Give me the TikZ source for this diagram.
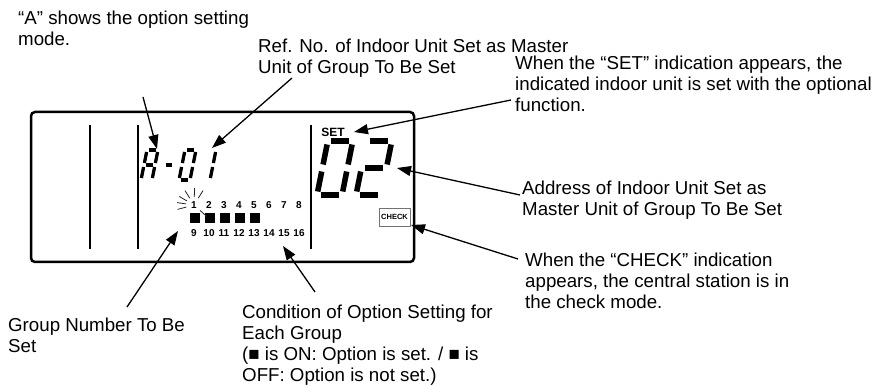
\documentclass[tikz,border=0pt]{standalone}
\usepackage{fontspec}
\setmainfont{Liberation Sans}
\usetikzlibrary{arrows.meta}
% seven-segment helpers
\newcommand{\segA}{\draw (\sgg,\shh) -- (\sww-\sgg,\shh);}
\newcommand{\segB}{\draw (\sww,\shh-\sgg) -- (\sww,\shh/2+\sgg);}
\newcommand{\segC}{\draw (\sww,\shh/2-\sgg) -- (\sww,\sgg);}
\newcommand{\segD}{\draw (\sgg,0) -- (\sww-\sgg,0);}
\newcommand{\segE}{\draw (0,\shh/2-\sgg) -- (0,\sgg);}
\newcommand{\segF}{\draw (0,\shh-\sgg) -- (0,\shh/2+\sgg);}
\newcommand{\segG}{\draw (\sgg,\shh/2) -- (\sww-\sgg,\shh/2);}
% #1 x, #2 y of bottom-left, #3 width, #4 height, #5 thickness, #6 gap, #7 segments
\newcommand{\sevdigit}[7]{%
  \begin{scope}[shift={(#1,#2)}, x=1pt, y=1pt, xslant=0.2, line width=#5]
    \def\sww{#3}\def\shh{#4}\def\sgg{#6}%
    \foreach \s in {#7}{\csname seg\s\endcsname}
  \end{scope}}
\begin{document}
\begin{tikzpicture}[x=1pt,y=-1pt,
  lbl/.style={anchor=north west, inner sep=0pt, align=left,
    font=\fontsize{18.7}{21}\selectfont},
  callout/.style={line width=1.3pt, -{Triangle[length=14pt,width=10pt]}},
  lcd/.style={line width=2.5pt, rounded corners=4pt},
  divider/.style={line width=1.2pt},
  gridnum/.style={inner sep=0pt, font=\bfseries\fontsize{10}{10}\selectfont},
  onbox/.style={fill=black, minimum size=10.5pt, inner sep=0pt},
  ray/.style={line width=0.8pt, black!85},
]
\useasboundingbox (0,0) rectangle (875,387);

% LCD frame and dividers
\draw[lcd] (31,112) rectangle (414,262);
\coordinate (d1t) at (90,125);  \coordinate (d1b) at (90,249);
\coordinate (d2t) at (138,125); \coordinate (d2b) at (138,249);
\coordinate (d3t) at (311,125); \coordinate (d3b) at (311,249);
\draw[divider] (d1t) -- (d1b);
\draw[divider] (d2t) -- (d2b);
\draw[divider] (d3t) -- (d3b);

% "A-01"
\sevdigit{141}{180}{11}{30}{3.3pt}{2}{A,B,C,E,F,G}
\sevdigit{160}{180}{11}{30}{3.3pt}{2.5}{G}
\sevdigit{179}{180}{11}{30}{3.3pt}{2}{A,B,C,D,E,F}
\sevdigit{199}{180}{11}{30}{3.3pt}{2}{B,C}

% "02"
\sevdigit{317}{195}{25}{54}{5.5pt}{3.5}{A,B,C,D,E,F}
\sevdigit{356}{195}{25}{54}{5.5pt}{3.5}{A,B,G,E,D}

% SET and CHECK indications
\node[inner sep=0pt, font=\bfseries\fontsize{12}{12}\selectfont] (set) at (333,132) {SET};
\node[draw=black!55, line width=0.6pt, inner sep=1.5pt, minimum width=31pt, minimum height=18pt,
      font=\bfseries\fontsize{7.5}{8}\selectfont] (check) at (394.5,217) {CHECK};

% group numbers
\foreach \n [count=\i] in {1,...,8}{
  \node[gridnum] (r1n\n) at ({194+15*(\i-1)},205) {\n};
}
\foreach \n [count=\i] in {9,...,16}{
  \node[gridnum] (r2n\n) at ({194+15*(\i-1)},233) {\n};
}
\foreach \i in {1,...,5}{
  \node[onbox] (sq\i) at ({195+15*(\i-1)},218) {};
}
% blinking rays around "1"
\coordinate (blink) at (194,205);
\foreach \a in {-58,-88,-122,-150,-172,165,42}{
  \draw[ray] ([shift={(\a:8)}]blink) -- ([shift={(\a:17)}]blink);
}

% texts
\node[lbl] (tA) at (18,11) {“A” shows the option setting\\mode.};
\node[lbl] (tRef) at (258,39) {Ref. No. of Indoor Unit Set as Master\\Unit of Group To Be Set};
\node[lbl] (tSet) at (515,56) {When the “SET” indication appears, the\\indicated indoor unit is set with the optional\\function.};
\node[lbl] (tAddr) at (522,181) {Address of Indoor Unit Set as\\Master Unit of Group To Be Set};
\node[lbl] (tCheck) at (525,253) {When the “CHECK” indication\\appears, the central station is in\\the check mode.};
\node[lbl] (tGroup) at (8,318) {Group Number To Be\\Set};
\node[lbl] (tCond) at (242,305) {Condition of Option Setting for\\Each Group\\(■ is ON: Option is set. / ■ is\\OFF: Option is not set.)};

% callout lines
\coordinate (cA) at (143,97);     \coordinate (pA) at (157,149);
\coordinate (cRef) at (292,78);   \coordinate (pRef) at (212,148);
\coordinate (cSet) at (511,100);  \coordinate (pSet) at (354,132);
\coordinate (cAddr) at (520,195); \coordinate (pAddr) at (397,168);
\coordinate (cCheck) at (518,259);\coordinate (pCheck) at (411,225);
\coordinate (cGroup) at (127,307);\coordinate (pGroup) at (178,231);
\coordinate (cCond) at (315,292); \coordinate (pCond) at (283,246);
\draw[callout] (cA) -- (pA);
\draw[callout] (cRef) -- (pRef);
\draw[callout] (cSet) -- (pSet);
\draw[callout] (cAddr) -- (pAddr);
\draw[callout] (cCheck) -- (pCheck);
\draw[callout] (cGroup) -- (pGroup);
\draw[callout] (cCond) -- (pCond);
\end{tikzpicture}
\end{document}
